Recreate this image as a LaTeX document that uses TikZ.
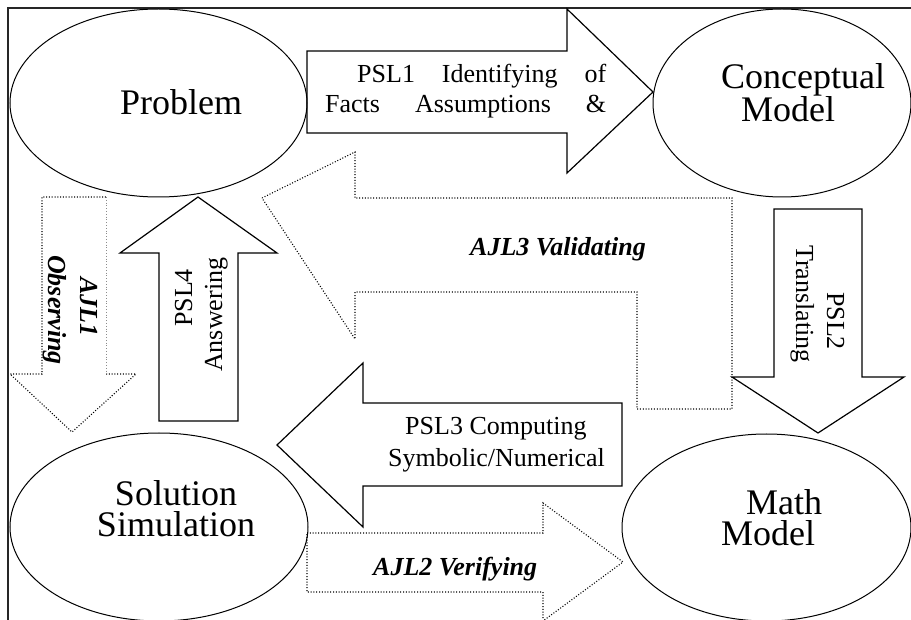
\documentclass[tikz,border=0pt]{standalone}
\usepackage{fontspec}
\setmainfont{Liberation Serif}
\usetikzlibrary{shapes.geometric}
\begin{document}
\begin{tikzpicture}[x=1pt,y=-1pt,
  oval/.style={draw, ellipse, line width=1pt, inner sep=0pt, outer sep=0pt},
  solidarrow/.style={draw, line width=1.2pt, line join=miter},
  dotarrow/.style={draw, line width=1.1pt, dash pattern=on 1pt off 1.8pt},
  bigtxt/.style={font=\fontsize{36}{31}\selectfont, inner sep=0pt, align=left},
  psltxt/.style={font=\fontsize{26}{30}\selectfont, inner sep=0pt, text height=19pt, text depth=4pt},
  ajltxt/.style={font=\fontsize{26}{30}\selectfont\bfseries\itshape, inner sep=0pt, text height=19pt, text depth=4pt},
  frameline/.style={draw=black!85, line width=1.5pt}]
\useasboundingbox (0,0) rectangle (911,620);
% frame
\draw[frameline] (8,620) -- (8,8) -- (911,8);
% ellipses
\node[oval, minimum width=297pt, minimum height=188pt] (prob) at (158.5,103) {};
\node[oval, minimum width=258pt, minimum height=188pt] (concept) at (782,103) {};
\node[oval, minimum width=298pt, minimum height=188pt] (sol) at (159,527) {};
\node[oval, minimum width=289pt, minimum height=187pt] (math) at (766.5,527.5) {};
% ellipse texts
\node[bigtxt, anchor=base west] (tprob) at (120,115) {Problem};
\node[bigtxt, anchor=base west] (tconc) at (721,121.7) {Conceptual\\\hspace*{20pt}Model};
\node[bigtxt, align=center, anchor=base] (tsol) at (176,536.7) {Solution\\Simulation};
\node[bigtxt, anchor=base west] (tmath) at (721,545) {\hspace*{25pt}Math\\Model};
% PSL1 arrow (right)
\draw[solidarrow] (307,51) -- (567,51) -- (567,9) -- (653,92) -- (567,173) -- (567,133) -- (307,133) -- cycle;
\node[psltxt, anchor=base west] (psl1a) at (357,82.7) {\makebox[249pt][s]{PSL1 Identifying of}};
\node[psltxt, anchor=base west] (psl1b) at (325,113) {\makebox[281pt][s]{Facts Assumptions \&}};
% PSL2 arrow (down)
\draw[solidarrow] (774,209) -- (862,209) -- (862,377) -- (904,377) -- (818,433) -- (732,377) -- (774,377) -- cycle;
\node[psltxt, rotate=-90, anchor=base west] (psl2a) at (827,292) {PSL2};
\node[psltxt, rotate=-90, anchor=base west] (psl2b) at (796,245) {Translating};
% PSL3 arrow (left)
\draw[solidarrow] (622,403) -- (363,403) -- (363,363) -- (277,445) -- (363,527) -- (363,486) -- (622,486) -- cycle;
\node[psltxt, anchor=base west] (psl3a) at (405,435) {PSL3 Computing};
\node[psltxt, anchor=base west] (psl3b) at (388,466) {Symbolic/Numerical};
% PSL4 arrow (up)
\draw[solidarrow] (159,421) -- (159,253) -- (120,253) -- (198,197) -- (277,253) -- (238,253) -- (238,421) -- cycle;
\node[psltxt, rotate=90, anchor=base west] (psl4a) at (192,327) {PSL4};
\node[psltxt, rotate=90, anchor=base west] (psl4b) at (222,372) {Answering};
% AJL1 dotted arrow (down)
\draw[dotarrow] (106,374) -- (136,374) -- (72,432) -- (10,374) -- (42,374) -- (42,197) -- (106,197);
\draw[dotarrow, draw=black!45, line width=0.8pt] (106,197) -- (106,374);
\node[ajltxt, rotate=-90, anchor=base west] (ajl1a) at (80,277) {AJL1};
\node[ajltxt, rotate=-90, anchor=base west] (ajl1b) at (48,255) {Observing};
% AJL2 dotted arrow (right)
\draw[dotarrow] (307,533) -- (543,533) -- (543,503) -- (623,562) -- (543,621) -- (543,592) -- (307,592) -- cycle;
\node[ajltxt, anchor=base west] (ajl2) at (373,575) {AJL2 Verifying};
% AJL3 dotted bent arrow
\draw[dotarrow] (262,198) -- (355,152) -- (355,198) -- (732,198) -- (732,409) -- (637,409) -- (637,292) -- (355,292) -- (355,339) -- cycle;
\node[ajltxt, anchor=base west] (ajl3) at (470,256) {AJL3 Validating};
\end{tikzpicture}
\end{document}
